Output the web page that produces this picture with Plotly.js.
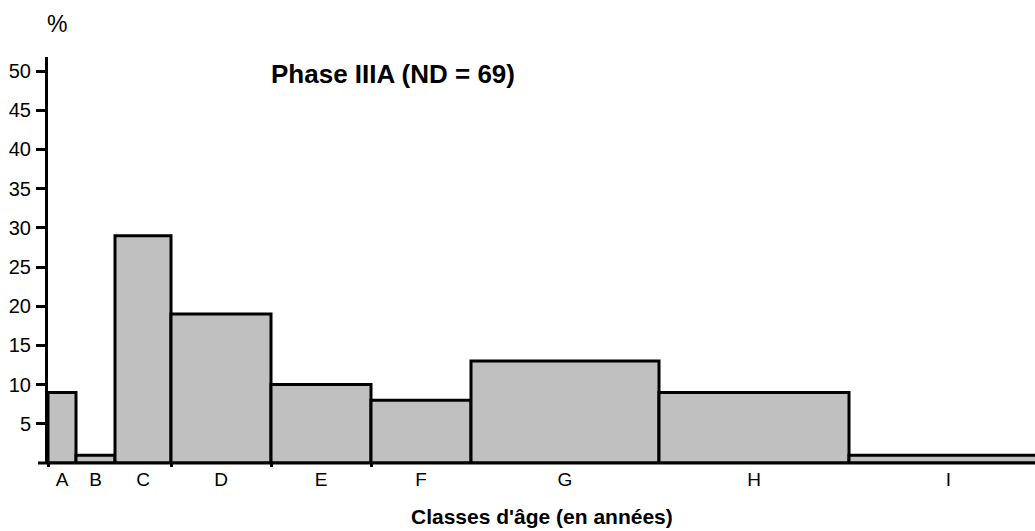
<!DOCTYPE html>
<html>
<head>
<meta charset="utf-8">
<script src="https://cdn.plot.ly/plotly-3.0.1.min.js"></script>
<style>html,body{margin:0;padding:0;background:#fff;}#chart{width:1035px;height:531px;}</style>
</head>
<body>
<div id="chart"></div>
<script>
// Age classes and bin edges (arbitrary age-scale units, as drawn)
const categories = ["A","B","C","D","E","F","G","H","I"];
const binStart = [0, 0.28, 0.67, 1.23, 2.23, 3.23, 4.23, 6.11, 8.01];
const binEnd   = [0.28, 0.67, 1.23, 2.23, 3.23, 4.23, 6.11, 8.01, 10.0];
const percents = [9, 1, 29, 19, 10, 8, 13, 9, 1];
const yTicks = [5,10,15,20,25,30,35,40,45,50];
const edgeTicks = [0, 1.23, 2.23, 3.23];

const centers = binStart.map((s,i)=>(s+binEnd[i])/2);
const widths = binStart.map((s,i)=>binEnd[i]-s);

const font = "Liberation Sans, Arial, sans-serif";

const trace = {
  type: "bar",
  x: centers,
  y: percents,
  width: widths,
  marker: {color: "#c0c0c0", line: {color: "#000", width: 3}},
  hoverinfo: "skip"
};

const layout = {
  width: 1035, height: 531,
  margin: {l: 48, r: 0, t: 57, b: 68},
  paper_bgcolor: "#fff", plot_bgcolor: "#fff",
  showlegend: false,
  font: {family: font, color: "#000", size: 18},
  xaxis: {
    range: [0, 9.87],
    showgrid: false, zeroline: false,
    showline: false,
    tickvals: centers, ticktext: categories,
    ticks: "", ticklen: 0,
    ticklabelstandoff: 3,
    tickfont: {size: 19, family: font, color: "#000"},
    minor: {tickvals: edgeTicks, ticks: "outside", ticklen: 3, tickwidth: 3, tickcolor: "#000"},
    fixedrange: true
  },
  yaxis: {
    range: [0, 51.8],
    showgrid: false, zeroline: false,
    showline: true, linecolor: "#000", linewidth: 3,
    tickvals: yTicks,
    ticks: "outside", ticklen: 9, tickwidth: 3, tickcolor: "#000",
    ticklabelstandoff: 1,
    tickfont: {size: 20, family: font, color: "#000"},
    fixedrange: true
  },
  shapes: [
    {type: "line", xref: "paper", yref: "paper", x0: -10/987, x1: 1, y0: 0, y1: 0,
     line: {color: "#000", width: 3}}
  ],
  annotations: [
    {text: "<b>Phase IIIA (ND = 69)</b>", xref: "paper", yref: "paper",
     x: (392.5-48)/987, y: (463-74)/406, xanchor: "center", yanchor: "middle",
     showarrow: false, font: {size: 26, family: font, color: "#000"}},
    {text: "%", xref: "paper", yref: "paper",
     x: (56.5-48)/987, y: (463-24)/406, xanchor: "center", yanchor: "middle",
     showarrow: false, font: {size: 23, family: font, color: "#000"}},
    {text: "<b>Classes d'âge (en années)</b>", xref: "paper", yref: "paper",
     x: 0.5, y: (463-516)/406, xanchor: "center", yanchor: "middle",
     showarrow: false, font: {size: 21, family: font, color: "#000"}}
  ]
};

Plotly.newPlot("chart", [trace], layout, {staticPlot: true, displayModeBar: false});
</script>
</body>
</html>
